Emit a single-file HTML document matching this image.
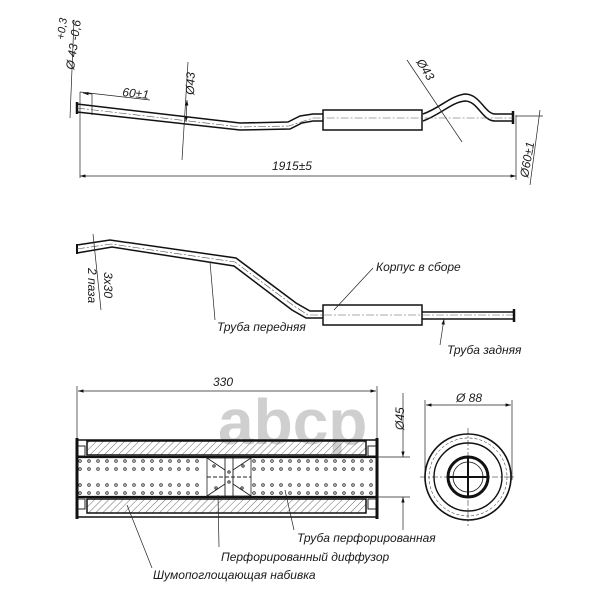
<!DOCTYPE html>
<html><head><meta charset="utf-8"><style>
html,body{margin:0;padding:0;background:#fff}
svg{display:block}
text{font-family:"Liberation Sans",sans-serif;font-style:italic;fill:#1a1a1a;font-size:12px}
</style></head><body>
<svg width="600" height="600" viewBox="0 0 600 600" xmlns="http://www.w3.org/2000/svg">
<defs>
<pattern id="h" width="5" height="5" patternUnits="userSpaceOnUse" patternTransform="rotate(45)">
<line x1="0" y1="0" x2="0" y2="5" stroke="#444" stroke-width="0.8"/></pattern>
<marker id="a" viewBox="0 0 10 6" refX="10" refY="3" markerWidth="8" markerHeight="5" orient="auto-start-reverse"><path d="M0,0L10,3L0,6z" fill="#111"/></marker>
</defs>
<text x="218" y="444" style="font-style:normal;font-weight:bold;font-size:64px;fill:#cfcfcf">abcp</text>

<!-- TOP PIPE -->
<g fill="none" stroke="#111" stroke-width="1.5">
<path d="M77,104 L240,123 L288,122 L300,116 L313,114 L323,114"/>
<path d="M77,112 L240,130 L290,129 L302,123 L313,121 L323,121"/>
<rect x="323" y="110" width="99" height="20"/>
<path d="M423,114 C440,108 450,96 465,94 C480,94 485,114 495,114 L513,114"/>
<path d="M423,121 C440,115 452,102 465,101 C478,101 482,121 495,121 L513,121"/>
<line x1="513" y1="111" x2="513" y2="124" stroke-width="2.5"/>
<line x1="77" y1="102" x2="77" y2="114" stroke-width="2.5"/>
</g>
<g fill="none" stroke="#555" stroke-width="0.6" stroke-dasharray="8,2,2,2">
<path d="M77,108 L240,127 L289,126 L313,118 L513,118"/>
</g>
<g fill="none" stroke="#222" stroke-width="0.7">
<line x1="80" y1="92" x2="80" y2="178"/>
<line x1="516" y1="115" x2="516" y2="180"/>
<line x1="80" y1="176" x2="516" y2="176" marker-start="url(#a)" marker-end="url(#a)"/>
<line x1="80" y1="92" x2="150" y2="100"/>
<line x1="83" y1="93" x2="92" y2="94" marker-start="url(#a)"/>
<line x1="92" y1="94" x2="92" y2="115"/>
<line x1="188" y1="62" x2="182" y2="160"/>
<line x1="187" y1="100" x2="186" y2="122" marker-start="url(#a)" marker-end="url(#a)"/>
<line x1="407" y1="60" x2="462" y2="142"/>
<line x1="74" y1="20" x2="70" y2="118"/>
<line x1="516" y1="116" x2="543" y2="116"/>
<line x1="540" y1="110" x2="530" y2="185"/>
</g>
<text x="122" y="96" transform="rotate(6 122 96)">60±1</text>
<text x="272" y="170">1915±5</text>
<text transform="translate(194,95) rotate(-88)">Ø43</text>
<text transform="translate(416,62) rotate(58)">Ø43</text>
<text transform="translate(74,70) rotate(-82)">Ø 43 -0,6</text>
<text transform="translate(64,40) rotate(-82)" style="font-size:11px">+0,3</text>
<text transform="translate(528,178) rotate(-80)">Ø60±1</text>

<!-- MIDDLE -->
<g fill="none" stroke="#111" stroke-width="1.5">
<path d="M77,245 L110,240 L236,258 L296,303 L310,311 L323,311"/>
<path d="M77,253 L112,247 L234,266 L292,310 L306,318 L323,318"/>
<rect x="323" y="305" width="99" height="20"/>
<path d="M422,312 L513,312 M422,319 L513,319"/>
<line x1="514" y1="309" x2="514" y2="322" stroke-width="2.5"/>
<line x1="77" y1="244" x2="77" y2="254" stroke-width="2"/>
</g>
<g fill="none" stroke="#555" stroke-width="0.6" stroke-dasharray="8,2,2,2">
<path d="M77,249 L111,244 L235,262 L294,306 L308,315 L513,315"/>
</g>
<g fill="none" stroke="#222" stroke-width="0.7">
<line x1="93" y1="234" x2="101" y2="310"/>
<line x1="210" y1="262" x2="215" y2="320"/>
<line x1="334" y1="310" x2="373" y2="268"/>
<line x1="444" y1="319" x2="440" y2="345" marker-start="url(#a)"/>
</g>
<text transform="translate(104,272) rotate(90)">3x30</text>
<text transform="translate(88,268) rotate(90)">2 паза</text>
<text x="376" y="271">Корпус в сборе</text>
<text x="217" y="331">Труба передняя</text>
<text x="447" y="354">Труба задняя</text>

<!-- MUFFLER SECTION -->
<g fill="none" stroke="#222" stroke-width="0.7">
<line x1="77" y1="386" x2="77" y2="440"/>
<line x1="377" y1="386" x2="377" y2="440"/>
<line x1="78" y1="391" x2="376" y2="391" marker-start="url(#a)" marker-end="url(#a)"/>
<line x1="370" y1="457" x2="410" y2="457"/>
<line x1="370" y1="497" x2="410" y2="497"/>
<line x1="403" y1="393" x2="403" y2="457" marker-end="url(#a)"/>
<line x1="403" y1="497" x2="403" y2="530" marker-start="url(#a)"/>
<line x1="425" y1="400" x2="425" y2="480"/>
<line x1="512" y1="400" x2="512" y2="480"/>
<line x1="426" y1="405" x2="511" y2="405" marker-start="url(#a)" marker-end="url(#a)"/>
</g>
<text x="213" y="386">330</text>
<text transform="translate(404,430) rotate(-90)">Ø45</text>
<text x="456" y="402">Ø 88</text>
<rect x="87" y="441" width="279" height="14" fill="url(#h)" stroke="#111" stroke-width="1.5"/>
<rect x="87" y="499" width="279" height="14" fill="url(#h)" stroke="#111" stroke-width="1.5"/>
<rect x="77" y="440" width="300" height="77" fill="none" stroke="#111" stroke-width="1.5"/>
<rect x="77" y="446" width="8" height="10" fill="none" stroke="#222"/>
<rect x="77" y="499" width="8" height="10" fill="none" stroke="#222"/>
<rect x="368" y="446" width="8" height="10" fill="none" stroke="#222"/>
<rect x="368" y="499" width="8" height="10" fill="none" stroke="#222"/>
<line x1="77" y1="438" x2="77" y2="519" stroke="#111" stroke-width="3"/>
<line x1="377" y1="438" x2="377" y2="519" stroke="#111" stroke-width="3"/>
<line x1="77" y1="457" x2="377" y2="457" stroke="#111" stroke-width="2.2"/>
<line x1="77" y1="497" x2="377" y2="497" stroke="#111" stroke-width="2.2"/>
<g fill="none" stroke="#333" stroke-width="0.9">
<g id="r1">
<circle cx="80" cy="461" r="1.3"/><circle cx="89" cy="461" r="1.3"/><circle cx="98" cy="461" r="1.3"/><circle cx="107" cy="461" r="1.3"/><circle cx="116" cy="461" r="1.3"/><circle cx="125" cy="461" r="1.3"/><circle cx="134" cy="461" r="1.3"/><circle cx="143" cy="461" r="1.3"/><circle cx="152" cy="461" r="1.3"/><circle cx="161" cy="461" r="1.3"/><circle cx="170" cy="461" r="1.3"/><circle cx="179" cy="461" r="1.3"/><circle cx="188" cy="461" r="1.3"/><circle cx="197" cy="461" r="1.3"/>
<circle cx="254" cy="461" r="1.3"/><circle cx="263" cy="461" r="1.3"/><circle cx="272" cy="461" r="1.3"/><circle cx="281" cy="461" r="1.3"/><circle cx="290" cy="461" r="1.3"/><circle cx="299" cy="461" r="1.3"/><circle cx="308" cy="461" r="1.3"/><circle cx="317" cy="461" r="1.3"/><circle cx="326" cy="461" r="1.3"/><circle cx="335" cy="461" r="1.3"/><circle cx="344" cy="461" r="1.3"/><circle cx="353" cy="461" r="1.3"/><circle cx="362" cy="461" r="1.3"/><circle cx="371" cy="461" r="1.3"/>
</g>
<use href="#r1" y="8"/><use href="#r1" y="24"/><use href="#r1" y="32"/>
</g>
<rect x="207" y="458" width="44" height="38" fill="#fff" stroke="#222" stroke-width="0.8"/>
<g fill="none" stroke="#222" stroke-width="0.9">
<path d="M207,458 L225,470 L225,484 L207,496"/>
<path d="M251,458 L233,470 L233,484 L251,496"/>
<line x1="225" y1="458" x2="225" y2="496"/><line x1="233" y1="458" x2="233" y2="496"/>
<line x1="207" y1="477" x2="251" y2="477" stroke-dasharray="4,2"/>
<circle cx="214" cy="466" r="1.2"/><circle cx="216" cy="488" r="1.2"/><circle cx="243" cy="466" r="1.2"/><circle cx="242" cy="488" r="1.2"/><circle cx="229" cy="472" r="1.2"/><circle cx="229" cy="482" r="1.2"/>
</g>
<g fill="none" stroke="#222" stroke-width="0.7">
<line x1="127" y1="505" x2="152" y2="568"/>
<line x1="218" y1="495" x2="219" y2="547"/>
<line x1="285" y1="490" x2="294" y2="530"/>
</g>
<text x="297" y="542">Труба перфорированная</text>
<text x="221" y="561">Перфорированный диффузор</text>
<text x="153" y="579">Шумопоглощающая набивка</text>

<!-- END VIEW -->
<g fill="none" stroke="#111">
<circle cx="468" cy="477" r="43" stroke-width="1.6"/>
<circle cx="468" cy="477" r="39" stroke-width="0.5" stroke-dasharray="3,2"/>
<circle cx="468" cy="477" r="34" stroke-width="1.4"/>
<circle cx="468" cy="477" r="20" stroke-width="3"/>
<circle cx="468" cy="477" r="15" stroke-width="0.8"/>
<line x1="468" y1="457" x2="468" y2="497" stroke-width="2"/>
<line x1="448" y1="477" x2="488" y2="477" stroke-width="2"/>
<line x1="420" y1="477" x2="516" y2="477" stroke-width="0.5" stroke-dasharray="6,2,2,2"/>
<line x1="468" y1="428" x2="468" y2="526" stroke-width="0.5" stroke-dasharray="6,2,2,2"/>
</g>
</svg>
</body></html>
